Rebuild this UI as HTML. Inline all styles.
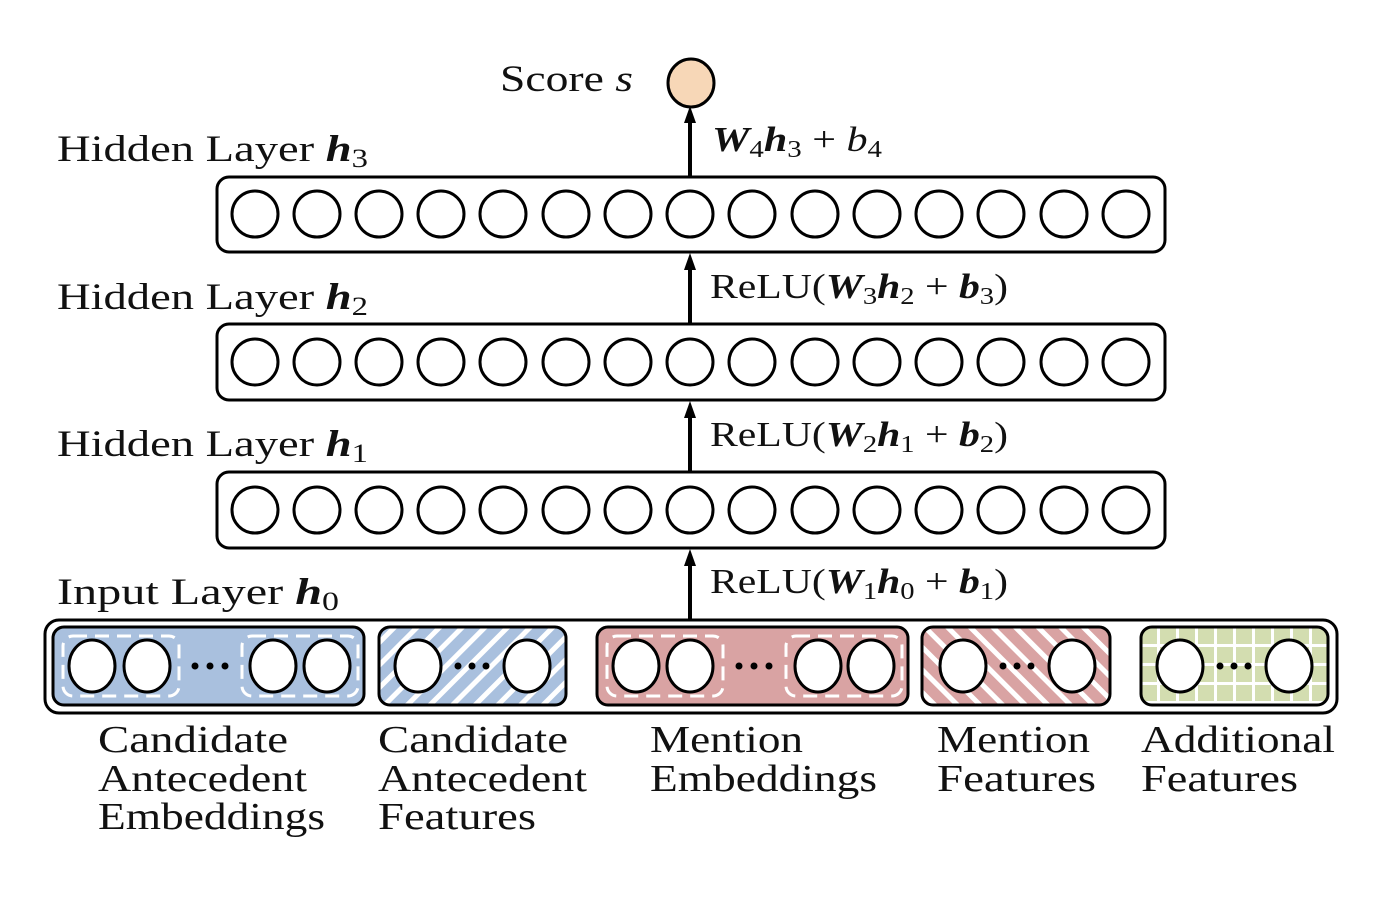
<!DOCTYPE html>
<html><head><meta charset="utf-8"><style>
html,body{margin:0;padding:0;background:#fff;}
svg{display:block;}
text{font-family:"Liberation Serif",serif;fill:#111;}
</style></head><body>
<svg width="1392" height="898" viewBox="0 0 1392 898" xmlns="http://www.w3.org/2000/svg">
<defs>
<pattern id="hb" patternUnits="userSpaceOnUse" width="16" height="16" patternTransform="rotate(45)">
<rect width="16" height="16" fill="#a9c0de"/><rect width="5" height="16" fill="#fff"/></pattern>
<pattern id="hr" patternUnits="userSpaceOnUse" width="16" height="16" patternTransform="rotate(-45)">
<rect width="16" height="16" fill="#d9a3a3"/><rect width="5" height="16" fill="#fff"/></pattern>
<pattern id="gg" patternUnits="userSpaceOnUse" width="19" height="19" x="1141" y="628">
<rect width="19" height="19" fill="#d3ddb0"/><rect x="16" width="3" height="19" fill="#fff"/><rect y="16" width="19" height="3" fill="#fff"/></pattern>
</defs>

<!-- score -->
<text x="500" y="91" font-size="37" textLength="133" lengthAdjust="spacingAndGlyphs">Score <tspan font-style="italic">s</tspan></text>
<ellipse cx="691" cy="83" rx="23" ry="24" fill="#f7d7b7" stroke="#000" stroke-width="3"/>

<!-- hidden layer labels -->
<text x="57" y="161" font-size="37" textLength="311" lengthAdjust="spacingAndGlyphs">Hidden Layer <tspan font-weight="bold" font-style="italic">h</tspan><tspan font-size="26" dy="6">3</tspan></text>
<text x="57" y="309" font-size="37" textLength="311" lengthAdjust="spacingAndGlyphs">Hidden Layer <tspan font-weight="bold" font-style="italic">h</tspan><tspan font-size="26" dy="6">2</tspan></text>
<text x="57" y="456" font-size="37" textLength="311" lengthAdjust="spacingAndGlyphs">Hidden Layer <tspan font-weight="bold" font-style="italic">h</tspan><tspan font-size="26" dy="6">1</tspan></text>
<text x="57" y="604" font-size="37" textLength="282" lengthAdjust="spacingAndGlyphs">Input Layer <tspan font-weight="bold" font-style="italic">h</tspan><tspan font-size="26" dy="6">0</tspan></text>

<!-- arrows -->
<g stroke="#000" stroke-width="4">
<line x1="690" y1="177" x2="690" y2="115"/>
<line x1="690" y1="324" x2="690" y2="265"/>
<line x1="690" y1="472" x2="690" y2="413"/>
<line x1="690" y1="620" x2="690" y2="561"/>
</g>
<g fill="#000">
<polygon points="690,106 684,123 696,123"/>
<polygon points="690,253 684,270 696,270"/>
<polygon points="690,401 684,418 696,418"/>
<polygon points="690,549 684,566 696,566"/>
</g>

<!-- formulas -->
<text x="712" y="151" font-size="35" textLength="170" lengthAdjust="spacingAndGlyphs"><tspan font-weight="bold" font-style="italic">W</tspan><tspan font-size="24" dy="6">4</tspan><tspan dy="-6" font-weight="bold" font-style="italic">h</tspan><tspan font-size="24" dy="6">3</tspan><tspan dy="-6"> + </tspan><tspan font-style="italic">b</tspan><tspan font-size="24" dy="6">4</tspan></text>
<text x="710" y="298" font-size="35" textLength="298" lengthAdjust="spacingAndGlyphs">ReLU(<tspan font-weight="bold" font-style="italic">W</tspan><tspan font-size="24" dy="6">3</tspan><tspan dy="-6" font-weight="bold" font-style="italic">h</tspan><tspan font-size="24" dy="6">2</tspan><tspan dy="-6"> + </tspan><tspan font-weight="bold" font-style="italic">b</tspan><tspan font-size="24" dy="6">3</tspan><tspan dy="-6">)</tspan></text>
<text x="710" y="446" font-size="35" textLength="298" lengthAdjust="spacingAndGlyphs">ReLU(<tspan font-weight="bold" font-style="italic">W</tspan><tspan font-size="24" dy="6">2</tspan><tspan dy="-6" font-weight="bold" font-style="italic">h</tspan><tspan font-size="24" dy="6">1</tspan><tspan dy="-6"> + </tspan><tspan font-weight="bold" font-style="italic">b</tspan><tspan font-size="24" dy="6">2</tspan><tspan dy="-6">)</tspan></text>
<text x="710" y="593" font-size="35" textLength="298" lengthAdjust="spacingAndGlyphs">ReLU(<tspan font-weight="bold" font-style="italic">W</tspan><tspan font-size="24" dy="6">1</tspan><tspan dy="-6" font-weight="bold" font-style="italic">h</tspan><tspan font-size="24" dy="6">0</tspan><tspan dy="-6"> + </tspan><tspan font-weight="bold" font-style="italic">b</tspan><tspan font-size="24" dy="6">1</tspan><tspan dy="-6">)</tspan></text>

<!-- hidden layers -->
<g fill="#fff" stroke="#000" stroke-width="3">
<rect x="217" y="177" width="948" height="75" rx="12"/>
<rect x="217" y="324" width="948" height="76" rx="12"/>
<rect x="217" y="472" width="948" height="76" rx="12"/>
</g>
<g fill="#fff" stroke="#000" stroke-width="3" id="row">
<circle cx="255" cy="214" r="23"/><circle cx="317" cy="214" r="23"/><circle cx="379" cy="214" r="23"/><circle cx="441" cy="214" r="23"/><circle cx="503" cy="214" r="23"/><circle cx="566" cy="214" r="23"/><circle cx="628" cy="214" r="23"/><circle cx="690" cy="214" r="23"/><circle cx="752" cy="214" r="23"/><circle cx="815" cy="214" r="23"/><circle cx="877" cy="214" r="23"/><circle cx="939" cy="214" r="23"/><circle cx="1001" cy="214" r="23"/><circle cx="1064" cy="214" r="23"/><circle cx="1126" cy="214" r="23"/>
</g>
<use href="#row" y="148"/>
<use href="#row" y="296"/>

<!-- input layer -->
<rect x="45" y="620" width="1292" height="93" rx="14" fill="#fff" stroke="#000" stroke-width="3"/>
<g stroke="#000" stroke-width="3">
<rect x="53" y="627" width="311" height="78" rx="11" fill="#a9c0de"/>
<rect x="379" y="627" width="187" height="78" rx="11" fill="url(#hb)"/>
<rect x="597" y="627" width="311" height="78" rx="11" fill="#d9a3a3"/>
<rect x="922" y="627" width="188" height="78" rx="11" fill="url(#hr)"/>
<rect x="1141" y="627" width="187" height="78" rx="11" fill="url(#gg)"/>
</g>
<g fill="none" stroke="#fff" stroke-width="3" stroke-dasharray="14,8">
<rect x="63" y="636" width="116" height="60" rx="10"/>
<rect x="242" y="636" width="116" height="60" rx="10"/>
<rect x="607" y="636" width="116" height="60" rx="10"/>
<rect x="786" y="636" width="116" height="60" rx="10"/>
</g>
<g fill="#fff" stroke="#000" stroke-width="3">
<ellipse cx="92" cy="666" rx="23" ry="26"/><ellipse cx="147" cy="666" rx="23" ry="26"/>
<ellipse cx="273" cy="666" rx="23" ry="26"/><ellipse cx="327" cy="666" rx="23" ry="26"/>
<ellipse cx="418" cy="666" rx="23" ry="26"/><ellipse cx="527" cy="666" rx="23" ry="26"/>
<ellipse cx="636" cy="666" rx="23" ry="26"/><ellipse cx="690" cy="666" rx="23" ry="26"/>
<ellipse cx="818" cy="666" rx="23" ry="26"/><ellipse cx="871" cy="666" rx="23" ry="26"/>
<ellipse cx="963" cy="666" rx="23" ry="26"/><ellipse cx="1072" cy="666" rx="23" ry="26"/>
<ellipse cx="1180" cy="666" rx="23" ry="26"/><ellipse cx="1289" cy="666" rx="23" ry="26"/>
</g>
<g fill="#000">
<circle cx="195" cy="666" r="3.5"/><circle cx="210" cy="666" r="3.5"/><circle cx="225" cy="666" r="3.5"/>
<circle cx="458" cy="666" r="3.5"/><circle cx="472" cy="666" r="3.5"/><circle cx="486" cy="666" r="3.5"/>
<circle cx="739" cy="666" r="3.5"/><circle cx="754" cy="666" r="3.5"/><circle cx="769" cy="666" r="3.5"/>
<circle cx="1003" cy="666" r="3.5"/><circle cx="1017" cy="666" r="3.5"/><circle cx="1031" cy="666" r="3.5"/>
<circle cx="1220" cy="666" r="3.5"/><circle cx="1234" cy="666" r="3.5"/><circle cx="1248" cy="666" r="3.5"/>
</g>

<g font-size="38">
<text x="98" y="752" textLength="190" lengthAdjust="spacingAndGlyphs">Candidate</text>
<text x="98" y="791" textLength="209" lengthAdjust="spacingAndGlyphs">Antecedent</text>
<text x="98" y="829" textLength="227" lengthAdjust="spacingAndGlyphs">Embeddings</text>
<text x="378" y="752" textLength="190" lengthAdjust="spacingAndGlyphs">Candidate</text>
<text x="378" y="791" textLength="209" lengthAdjust="spacingAndGlyphs">Antecedent</text>
<text x="378" y="829" textLength="158" lengthAdjust="spacingAndGlyphs">Features</text>
<text x="650" y="752" textLength="153" lengthAdjust="spacingAndGlyphs">Mention</text>
<text x="650" y="791" textLength="227" lengthAdjust="spacingAndGlyphs">Embeddings</text>
<text x="937" y="752" textLength="153" lengthAdjust="spacingAndGlyphs">Mention</text>
<text x="937" y="791" textLength="159" lengthAdjust="spacingAndGlyphs">Features</text>
<text x="1141" y="752" textLength="194" lengthAdjust="spacingAndGlyphs">Additional</text>
<text x="1141" y="791" textLength="157" lengthAdjust="spacingAndGlyphs">Features</text>
</g>
</svg>
</body></html>
